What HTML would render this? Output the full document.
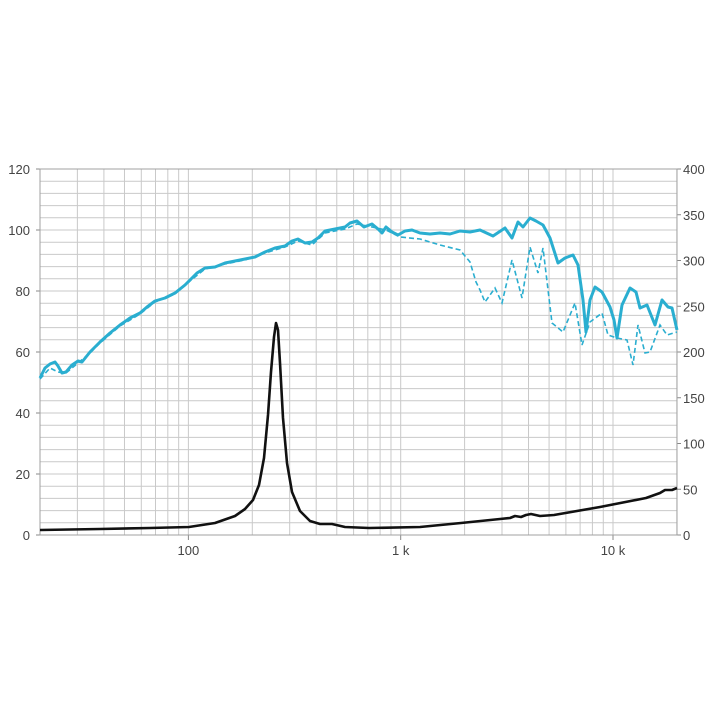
<!DOCTYPE html>
<html><head><meta charset="utf-8"><style>
html,body{margin:0;padding:0;background:#fff;}
svg{display:block;font-family:"Liberation Sans",sans-serif;}
</style></head><body>
<svg width="720" height="720" viewBox="0 0 720 720" xmlns="http://www.w3.org/2000/svg">
<rect width="720" height="720" fill="#fff"/>
<g id="grid" stroke="#c9c9c9" stroke-width="1"></g>
<rect x="40" y="169" width="637" height="366" fill="none" stroke="#a0a0a0" stroke-width="1"/>
<g id="labels" font-size="13" fill="#444"></g>
<polyline fill="none" stroke="#2aaed0" stroke-width="1.6" stroke-dasharray="5,3" points="40,379 50,368 58,372 66,373 78,363 90,353 100,343 120,326 140,314 155,302 175,294 190,281 205,269 225,264 245,260 265,253 285,247 298,241 312,245 325,233 345,229 357,224 372,227 386,230 400,237 420,239 440,245 460,250 470,262 476,282 480,290 485,302 495,288 502,303 512,260 522,298 530,247 538,273 543,248 552,323 563,332 575,303 582,345 590,322 602,313 608,335 617,338 627,340 633,365 638,325 645,353 650,352 660,325 667,335 677,332"/>
<polyline fill="none" stroke="#2aaed0" stroke-width="3" stroke-linejoin="round" points="40,378 45,368 50,364 55,362 58,366 62,373 66,372 72,365 78,361 82,362 90,352 100,342 110,333 120,325 130,318 140,313 147,307 155,301 165,298 175,293 185,285 190,280 197,273 205,268 215,267 225,263 235,261 245,259 255,257 265,252 275,248 285,246 292,241 298,239 305,243 312,242 318,238 325,231 335,229 345,227 350,223 357,221 364,227 372,224 378,229 382,233 386,227 392,232 398,235 405,231 412,230 420,233 430,234 440,233 450,234 460,231 470,232 480,230 493,236 505,228 512,238 518,222 523,227 530,218 536,221 543,225 550,238 558,263 565,258 573,255 578,265 583,300 586,332 590,300 595,287 602,292 610,307 614,320 617,338 622,305 630,288 636,292 640,308 647,305 655,325 662,300 668,307 672,308 677,330"/>
<polyline fill="none" stroke="#111" stroke-width="2.6" stroke-linejoin="round" points="40,530 100,529 150,528 189,527 215,523 235,516 245,509 253,500 259,485 264,458 268,415 271,372 274,337 276,323 278,330 280,363 283,418 287,463 292,492 300,511 310,521 320,524 332,524 345,527 369,528 420,527 461,523 500,519 510,518 515,516 521,517 526,515 531,514 540,516 554,515 600,507 646,498 660,493 665,490 672,490 677,488"/>
</svg>
<script>
(function(){
var ns="http://www.w3.org/2000/svg";
var g=document.getElementById('grid'),L=document.getElementById('labels');
function ln(x1,y1,x2,y2,c){var e=document.createElementNS(ns,'line');e.setAttribute('x1',x1);e.setAttribute('y1',y1);e.setAttribute('x2',x2);e.setAttribute('y2',y2);if(c)e.setAttribute('stroke',c);g.appendChild(e);}
function tx(x,y,s,a){var e=document.createElementNS(ns,'text');e.setAttribute('x',x);e.setAttribute('y',y);e.setAttribute('text-anchor',a);e.textContent=s;L.appendChild(e);}
var X=function(f){return 40+212.3*Math.log10(f/20);};
for(var d=10;d<=10000;d*=10){for(var m=1;m<10;m++){var f=d*m;if(f<20||f>20000)continue;var x=X(f);ln(x,169,x,535);}}
for(var i=0;i<=30;i++){var y=169+366*i/30;ln(40,y,677,y);}
for(var v=0;v<=120;v+=20){var y=535-366*v/120;tx(30,y+5,String(v),'end');ln(36,y,40,y,'#888');}
for(var v=0;v<=400;v+=50){var y=535-366*v/400;tx(683,y+5,String(v),'start');ln(677,y,681,y,'#888');}
[[100,'100'],[1000,'1 k'],[10000,'10 k']].forEach(function(p){var x=X(p[0]);tx(x,555,p[1],'middle');ln(x,535,x,540,'#888');});
})();
</script>
</body></html>
